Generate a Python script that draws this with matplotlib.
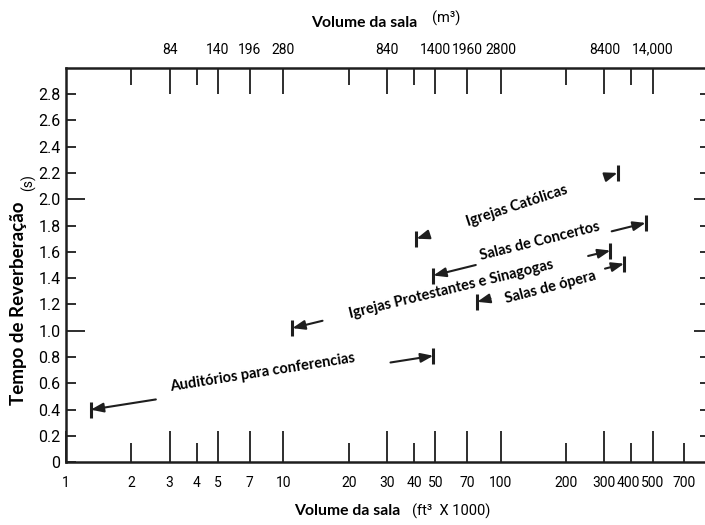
import numpy as np
import matplotlib
matplotlib.use('Agg')
import matplotlib.pyplot as plt
import matplotlib.transforms as mtransforms

# ranges (volume in ft3 x 1000, time in s)
categorias = ['Auditórios para conferencias', 'Igrejas Protestantes e Sinagogas',
              'Igrejas Católicas', 'Salas de Concertos', 'Salas de ópera']
vol_min = [1.3, 11, 41, 49, 78]
vol_max = [49, 320, 345, 465, 370]
t_min = [0.40, 1.02, 1.70, 1.42, 1.22]
t_max = [0.81, 1.61, 2.20, 1.82, 1.51]

# bottom axis ticks (ft3 x 1000)
x_long = [1, 3, 5, 7, 10, 30, 50, 70, 100, 300, 500]
x_short = [2, 4, 20, 40, 200, 400, 700]
# top axis ticks (m3)
m3_vals = [84, 140, 196, 280, 840, 1400, 1960, 2800, 8400, 14000]
m3_labels = ['84', '140', '196', '280', '840', '1400', '1960', '2800', '8400', '14,000']
m3_short = [56, 112, 560, 1120, 5600, 11200]
ft3_to_m3 = 28.0
# y ticks
y_long = [1.0, 2.0]
y_short = [0, 0.2, 0.4, 0.6, 0.8, 1.2, 1.4, 1.6, 1.8, 2.2, 2.4, 2.6, 2.8]

# arrow lengths (fraction of the segment) and label shifts (pixels)
frac_left = [0.19, 0.095, 0.05, 0.2, 0.09]
frac_right = [0.125, 0.07, 0.05, 0.16, 0.13]
label_dy = [10, 0, 0, 8, -5]

ink = '#1e1e1e'
num_font = ['Roboto', 'DejaVu Sans']
txt_font = ['Lato', 'DejaVu Sans']
plt.rcParams['font.family'] = num_font
x_size = 10
y_size = 11.5

fig = plt.figure(figsize=(7.05, 5.25), dpi=100)
ax = fig.add_axes([66/705, 1-462.3/525, 642/705, (462.3-67.7)/525])
ax.set_xscale('log')
ax.set_xlim(1, 900)
ax.set_ylim(0, 3.0)
for s in ax.spines.values():
    s.set_linewidth(1.8)
    s.set_color(ink)

ax.set_xticks(x_long, labels=[str(v) for v in x_long])
ax.set_xticks(x_short, labels=[str(v) for v in x_short], minor=True)
ax.tick_params(axis='x', which='major', direction='in', length=22, width=1.3,
               color=ink, labelsize=x_size, pad=10, top=False)
ax.tick_params(axis='x', which='minor', direction='in', length=14, width=1.3,
               color=ink, labelsize=x_size, pad=10, top=False)
# nudge the crowded "400" label a little to the left
shift = mtransforms.ScaledTranslation(-3/100, 0, fig.dpi_scale_trans)
t400 = ax.xaxis.get_minor_ticks()[x_short.index(400)]
t400.label1.set_transform(t400.label1.get_transform() + shift)

ax.set_yticks(y_long, labels=['%.1f' % v for v in y_long])
ax.set_yticks(y_short, labels=['0' if v == 0 else '%.1f' % v for v in y_short], minor=True)
ax.tick_params(axis='y', which='major', direction='in', length=14, width=1.3,
               color=ink, labelsize=y_size, pad=4, right=False)
ax.tick_params(axis='y', which='minor', direction='in', length=7, width=1.3,
               color=ink, labelsize=y_size, pad=4, right=False)

# right side ticks
sec = ax.secondary_yaxis('right')
sec.set_yticks(y_long)
sec.set_yticks(y_short[1:], minor=True)
sec.tick_params(which='major', direction='in', length=10, width=1.3, color=ink, labelright=False)
sec.tick_params(which='minor', direction='in', length=6, width=1.3, color=ink, labelright=False)
sec.spines['right'].set_linewidth(1.8)

# top axis in m3
ax2 = ax.twiny()
ax2.set_xscale('log')
ax2.set_xlim(ax.get_xlim())
ax2.set_xticks([v/ft3_to_m3 for v in m3_vals], labels=m3_labels)
ax2.set_xticks([v/ft3_to_m3 for v in m3_short], labels=[''] * len(m3_short), minor=True)
ax2.tick_params(axis='x', which='major', direction='in', length=19, width=1.3,
                color=ink, labelsize=x_size, pad=8)
ax2.tick_params(axis='x', which='minor', direction='in', length=12, width=1.3,
                color=ink, pad=8)
for s in ax2.spines.values():
    s.set_visible(False)

# ranges: end bars, arrows and labels
arrow_style = '-|>,head_length=0.75,head_width=0.28'
for i in range(len(categorias)):
    x0, x1 = vol_min[i], vol_max[i]
    y0, y1 = t_min[i], t_max[i]
    ax.plot([x0, x1], [y0, y1], ls='none', marker='|', ms=12, mew=2.2, color=ink)
    lx0, lx1 = np.log10(x0), np.log10(x1)
    f = frac_left[i]
    tail = (10**(lx0 + f*(lx1-lx0)), y0 + f*(y1-y0))
    ax.annotate('', xy=(x0, y0), xytext=tail,
                arrowprops=dict(arrowstyle=arrow_style, lw=1.5, color=ink,
                                shrinkA=0, shrinkB=0))
    f = frac_right[i]
    tail = (10**(lx1 + f*(lx0-lx1)), y1 + f*(y0-y1))
    ax.annotate('', xy=(x1, y1), xytext=tail,
                arrowprops=dict(arrowstyle=arrow_style, lw=1.5, color=ink,
                                shrinkA=0, shrinkB=0))
    p0 = ax.transData.transform((x0, y0))
    p1 = ax.transData.transform((x1, y1))
    ang = np.degrees(np.arctan2(p1[1]-p0[1], p1[0]-p0[0]))
    xm = 10**((lx0+lx1)/2)
    ym = (y0+y1)/2
    ax.annotate(categorias[i], xy=(xm, ym), xytext=(0, label_dy[i]),
                textcoords='offset pixels', rotation=ang, rotation_mode='anchor',
                ha='center', va='center', fontsize=10.5, fontweight='bold',
                family=txt_font, color='black')

# axis titles
fig.text(400/705, 1-511/525, 'Volume da sala', ha='right', va='center',
         fontsize=11.3, fontweight='bold', family=txt_font)
fig.text(412/705, 1-511/525, '(ft³  X 1000)', ha='left', va='center', fontsize=10.5)
fig.text(417/705, 1-23/525, 'Volume da sala', ha='right', va='center',
         fontsize=11.3, fontweight='bold', family=txt_font)
fig.text(432/705, 1-18/525, '(m³)', ha='left', va='center', fontsize=10.5)
fig.text(19/705, 1-303/525, 'Tempo de Reverberação', ha='center', va='center',
         rotation=90, fontsize=13.5, fontweight='bold', family=txt_font)
fig.text(28/705, 1-183/525, '(s)', ha='center', va='center', rotation=90, fontsize=10)

fig.savefig('out.png', dpi=100)
